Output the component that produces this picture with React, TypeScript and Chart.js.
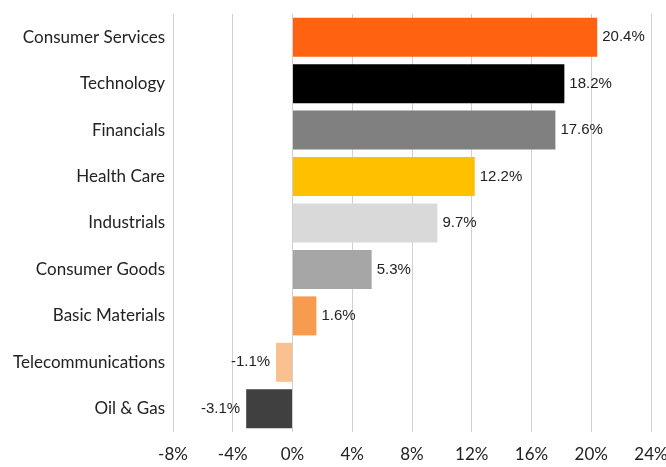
import React, { useEffect, useRef } from "react";
import { Chart, registerables } from "chart.js";

Chart.register(...registerables);

const categories = [
  "Consumer Services",
  "Technology",
  "Financials",
  "Health Care",
  "Industrials",
  "Consumer Goods",
  "Basic Materials",
  "Telecommunications",
  "Oil & Gas",
];
const values = [20.4, 18.2, 17.6, 12.2, 9.7, 5.3, 1.6, -1.1, -3.1];
const barColors = [
  "#FF6210",
  "#000000",
  "#808080",
  "#FFC000",
  "#D9D9D9",
  "#A6A6A6",
  "#F79B4F",
  "#FAC090",
  "#404040",
];
const xMin = -8;
const xMax = 24;
const xStep = 4;

const labelPlugin = {
  id: "barValueLabels",
  afterDatasetsDraw(chart: any) {
    const { ctx } = chart;
    const meta = chart.getDatasetMeta(0);
    ctx.save();
    ctx.font = "15px 'Liberation Sans', Arial, sans-serif";
    ctx.fillStyle = "#222222";
    ctx.textBaseline = "middle";
    meta.data.forEach((bar: any, i: number) => {
      const v = values[i];
      const txt = v.toFixed(1) + "%";
      if (v >= 0) {
        ctx.textAlign = "left";
        ctx.fillText(txt, bar.x + 5, bar.y);
      } else {
        ctx.textAlign = "right";
        ctx.fillText(txt, bar.x - 6, bar.y);
      }
    });
    ctx.restore();
  },
};

export default function App() {
  const ref = useRef<HTMLCanvasElement | null>(null);
  useEffect(() => {
    if (!ref.current) return;
    const chart = new Chart(ref.current, {
      type: "bar",
      data: {
        labels: categories,
        datasets: [
          {
            data: values,
            backgroundColor: barColors,
            borderWidth: 0,
            categoryPercentage: 1,
            barPercentage: 0.84,
          },
        ],
      },
      options: {
        indexAxis: "y",
        animation: false,
        responsive: true,
        maintainAspectRatio: false,
        layout: { padding: { top: 14, right: 0, left: 0, bottom: 0 } },
        plugins: { legend: { display: false }, tooltip: { enabled: false } },
        scales: {
          x: {
            min: xMin,
            max: xMax,
            ticks: {
              stepSize: xStep,
              callback: (v: any) => v + "%",
              color: "#222222",
              font: { family: "Lato, 'Open Sans', sans-serif", size: 17 },
              padding: 12,
            },
            grid: { color: "#D0D0D0", lineWidth: 1, drawTicks: false },
            border: { display: false },
            afterFit: (s: any) => {
              s.height = 35;
              s.paddingLeft = 0;
              s.paddingRight = 15;
            },
          },
          y: {
            ticks: {
              color: "#222222",
              font: { family: "Lato, 'Open Sans', sans-serif", size: 17 },
              padding: 8,
            },
            grid: { display: false, drawTicks: false },
            border: { display: false },
            afterFit: (s: any) => {
              s.width = 173;
              s.paddingTop = 0;
              s.paddingBottom = 0;
            },
          },
        },
      },
      plugins: [labelPlugin],
    });
    return () => chart.destroy();
  }, []);
  return (
    <div style={{ position: "absolute", left: 0, top: 0, width: 666, height: 467, background: "#fff" }}>
      <canvas ref={ref} />
    </div>
  );
}
